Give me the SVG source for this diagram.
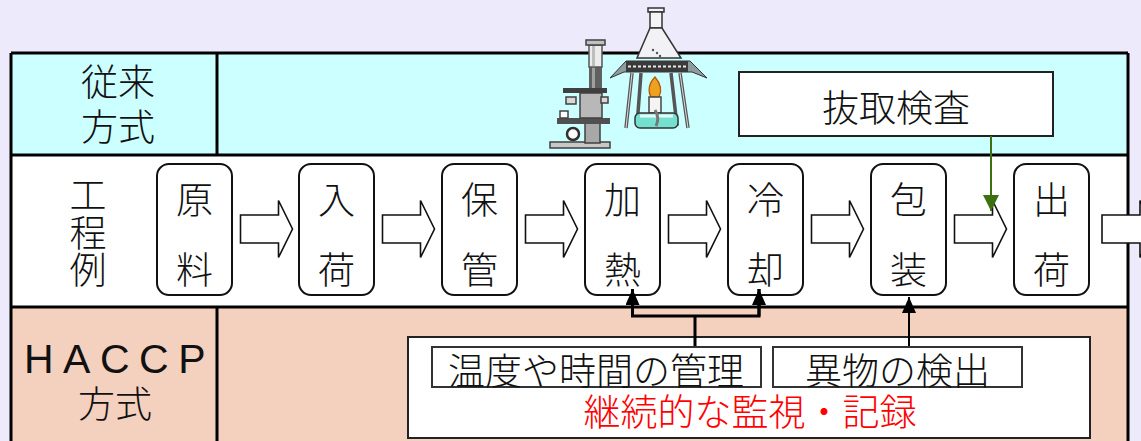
<svg xmlns="http://www.w3.org/2000/svg" width="1141" height="441" viewBox="0 0 1141 441">
  <style>
    .jp { font-family: "Noto Sans CJK JP", "Noto Sans CJK SC", sans-serif; font-weight: 300; font-size: 37px; fill: #111; text-anchor: middle; dominant-baseline: central; }
    .step { fill: #fff; stroke: #111; stroke-width: 2; }
    .flow { fill: #fff; stroke: #111; stroke-width: 1.6; }
    .grid { stroke: #000; stroke-width: 3; fill: none; }
    .panel { fill: #fff; stroke: #222; stroke-width: 2; }
    .tag { fill: #fff; stroke: #333; stroke-width: 2; }
    .link { stroke: #000; stroke-width: 3; fill: none; }
  </style>
  <defs>
    <!-- hollow block arrow, origin at the left end of the shaft -->
    <path id="blk" d="M0,-14 H38 V-28.5 L52,0 L38,28.5 V14 H0 Z"/>
    <marker id="headK" viewBox="0 0 16 14" refX="16" refY="7" markerWidth="16" markerHeight="14" markerUnits="userSpaceOnUse" orient="auto">
      <path d="M0,0 L16,7 L0,14 Z" fill="#000"/>
    </marker>
    <marker id="headG" viewBox="0 0 16 16" refX="16" refY="8" markerWidth="16" markerHeight="16" markerUnits="userSpaceOnUse" orient="auto">
      <path d="M0,0 L16,8 L0,16 Z" fill="#3d7010"/>
    </marker>
  </defs>

  <!-- page -->
  <rect width="1141" height="441" fill="#edebfb"/>

  <!-- table rows -->
  <g id="table">
    <rect x="11" y="53" width="1117" height="102" fill="#ccffff"/>
    <rect x="11" y="155" width="1117" height="152" fill="#ffffff"/>
    <rect x="11" y="307" width="1117" height="140" fill="#f4d0be"/>
    <path class="grid" d="M11,53 H1128 M11,155 H1128 M11,307 H1128 M11,53 V445 M1128,53 V445 M217,53 V155 M217,307 V445"/>
  </g>

  <!-- row headings -->
  <g id="head-conventional">
    <text class="jp"><tspan x="118" y="80">従来</tspan><tspan x="118" y="125">方式</tspan></text>
  </g>
  <g id="head-process">
    <text class="jp"><tspan x="88" y="193">工</tspan><tspan x="88" y="231">程</tspan><tspan x="88" y="268">例</tspan></text>
  </g>
  <g id="head-haccp">
    <text class="jp"><tspan x="24" y="373" style="text-anchor:start;dominant-baseline:alphabetic;font-family:'Liberation Sans', Arial, sans-serif;font-weight:400" font-size="41" letter-spacing="9.5">HACCP</tspan><tspan x="115" y="402">方式</tspan></text>
  </g>

  <!-- microscope and flask over a burner -->
  <g id="lab-equipment">
    <rect x="550" y="142" width="60" height="6" fill="#c8c8c8" stroke="#404040" stroke-width="1.5"/>
    <rect x="585" y="118" width="15" height="25" fill="#a8a8a8" stroke="#404040" stroke-width="1.5"/>
    <circle cx="573" cy="134" r="6" fill="#fff" stroke="#303030" stroke-width="2.5"/>
    <rect x="557" y="118" width="53" height="6" fill="#505050"/>
    <rect x="560" y="111" width="8" height="7" fill="#fff" stroke="#444" stroke-width="1.5"/>
    <rect x="580" y="93" width="22" height="25" fill="#b8b8b8" stroke="#404040" stroke-width="1.5"/>
    <rect x="566" y="97" width="10" height="7" fill="#d8d8d8" stroke="#404040" stroke-width="1.5"/>
    <rect x="601" y="97" width="7" height="6" fill="#d8d8d8" stroke="#404040" stroke-width="1.5"/>
    <rect x="563" y="88" width="44" height="5" fill="#404040"/>
    <rect x="589" y="67" width="13" height="21" fill="#606060"/>
    <rect x="592" y="67" width="3" height="21" fill="#a0a0a0"/>
    <rect x="589" y="45" width="13" height="22" fill="#ececec" stroke="#555" stroke-width="1.5"/>
    <rect x="592" y="46" width="3" height="20" fill="#bdbdbd"/>
    <rect x="586" y="40" width="19" height="5" fill="#c0c0c0" stroke="#404040" stroke-width="1.5"/>

    <path d="M632,73 L626,128 M680,73 L688,128 M641,73 L637,126 M671,73 L677,126" stroke="#555" stroke-width="3.5" fill="none"/>
    <path d="M632,73 L626,128 M680,73 L688,128" stroke="#ddd" stroke-width="1" fill="none"/>
    <path d="M610,78 L626,61 L690,61 L707,78 L692,72 L624,72 Z" fill="#8d9c9c" stroke="#333" stroke-width="1"/>
    <rect x="626" y="61" width="62" height="11" fill="#3a3a3a"/>
    <path d="M628,66.5 H686" stroke="#e8e8e8" stroke-width="2" stroke-dasharray="3 2"/>
    <rect x="648" y="8" width="16" height="4" fill="#f4f4f4" stroke="#333" stroke-width="1.5"/>
    <rect x="650" y="12" width="12" height="16" fill="#f4f4f4" stroke="#333" stroke-width="1.5"/>
    <path d="M650,28 L662,28 L681,58 L637,58 Z" fill="#f2f2f6" stroke="#333" stroke-width="1.5"/>
    <circle cx="653" cy="50" r="1.2" fill="#555"/>
    <circle cx="657" cy="53" r="1.2" fill="#555"/>
    <circle cx="660" cy="56" r="1.2" fill="#555"/>
    <path d="M655,77 C648,84 648,92 651,97 L659,97 C662,91 661,84 655,77 Z" fill="#f0a020" stroke="#b05a00" stroke-width="1.2"/>
    <rect x="649" y="97" width="12" height="16" fill="#f4f4f4" stroke="#444" stroke-width="1.5"/>
    <rect x="635" y="113" width="43" height="15" rx="5" fill="#74e0d0" stroke="#333" stroke-width="1.5"/>
    <path d="M640,116 H673" stroke="#e8fbf8" stroke-width="3"/>
    <path d="M655,110 Q660,118 656,126" stroke="#777" stroke-width="3" fill="none"/>
  </g>

  <!-- sampling inspection -->
  <g id="sampling">
    <rect class="panel" x="739" y="72" width="314" height="64"/>
    <text class="jp" x="896" y="106">抜取検査</text>
  </g>

  <!-- process steps -->
  <g id="step-raw">
    <rect class="step" x="157" y="164" width="75" height="131" rx="12"/>
    <text class="jp" x="194.5" y="197.5">原</text>
    <text class="jp" x="194.5" y="267.5">料</text>
  </g>
  <g id="step-receive">
    <rect class="step" x="299" y="164" width="75" height="131" rx="12"/>
    <text class="jp" x="336.5" y="197.5">入</text>
    <text class="jp" x="336.5" y="267.5">荷</text>
  </g>
  <g id="step-store">
    <rect class="step" x="442" y="164" width="75" height="131" rx="12"/>
    <text class="jp" x="479.5" y="197.5">保</text>
    <text class="jp" x="479.5" y="267.5">管</text>
  </g>
  <g id="step-heat">
    <rect class="step" x="585" y="164" width="75" height="131" rx="12"/>
    <text class="jp" x="622.5" y="197.5">加</text>
    <text class="jp" x="622.5" y="267.5">熱</text>
  </g>
  <g id="step-cool">
    <rect class="step" x="728" y="164" width="75" height="131" rx="12"/>
    <text class="jp" x="765.5" y="197.5">冷</text>
    <text class="jp" x="765.5" y="267.5">却</text>
  </g>
  <g id="step-pack">
    <rect class="step" x="871" y="164" width="75" height="131" rx="12"/>
    <text class="jp" x="908.5" y="197.5">包</text>
    <text class="jp" x="908.5" y="267.5">装</text>
  </g>
  <g id="step-ship">
    <rect class="step" x="1014" y="164" width="75" height="131" rx="12"/>
    <text class="jp" x="1051.5" y="197.5">出</text>
    <text class="jp" x="1051.5" y="267.5">荷</text>
  </g>

  <!-- HACCP monitoring panel -->
  <g id="monitoring">
    <rect class="panel" x="408" y="337" width="682" height="101"/>
    <text class="jp" x="750" y="410" style="fill:#ff0000">継続的な監視・記録</text>
  </g>
  <g id="temp-time">
    <rect class="tag" x="432" y="347" width="329" height="40"/>
    <text class="jp" x="596" y="369">温度や時間の管理</text>
  </g>
  <g id="foreign-matter">
    <rect class="tag" x="773" y="347" width="249" height="40"/>
    <text class="jp" x="897.5" y="369">異物の検出</text>
  </g>

  <!-- connectors -->
  <g id="connectors">
    <use href="#blk" class="flow" x="240.5" y="229"/>
    <use href="#blk" class="flow" x="382.5" y="229"/>
    <use href="#blk" class="flow" x="525.5" y="229"/>
    <use href="#blk" class="flow" x="668.5" y="229"/>
    <use href="#blk" class="flow" x="811.5" y="229"/>
    <use href="#blk" class="flow" x="954.5" y="229"/>
    <use href="#blk" class="flow" x="1102" y="229"/>
    <path d="M991,136 V211" stroke="#3d7010" stroke-width="2" fill="none" marker-end="url(#headG)"/>
    <path class="link" d="M695,346 V316 M632.5,289 V316 H759 V289" stroke-linejoin="miter"/>
    <path d="M632.5,316 V289" stroke="#000" stroke-width="3" marker-end="url(#headK)"/>
    <path d="M759,316 V289" stroke="#000" stroke-width="3" marker-end="url(#headK)"/>
    <path d="M909,346 V297" stroke="#000" stroke-width="2" marker-end="url(#headK)"/>
  </g>
</svg>
